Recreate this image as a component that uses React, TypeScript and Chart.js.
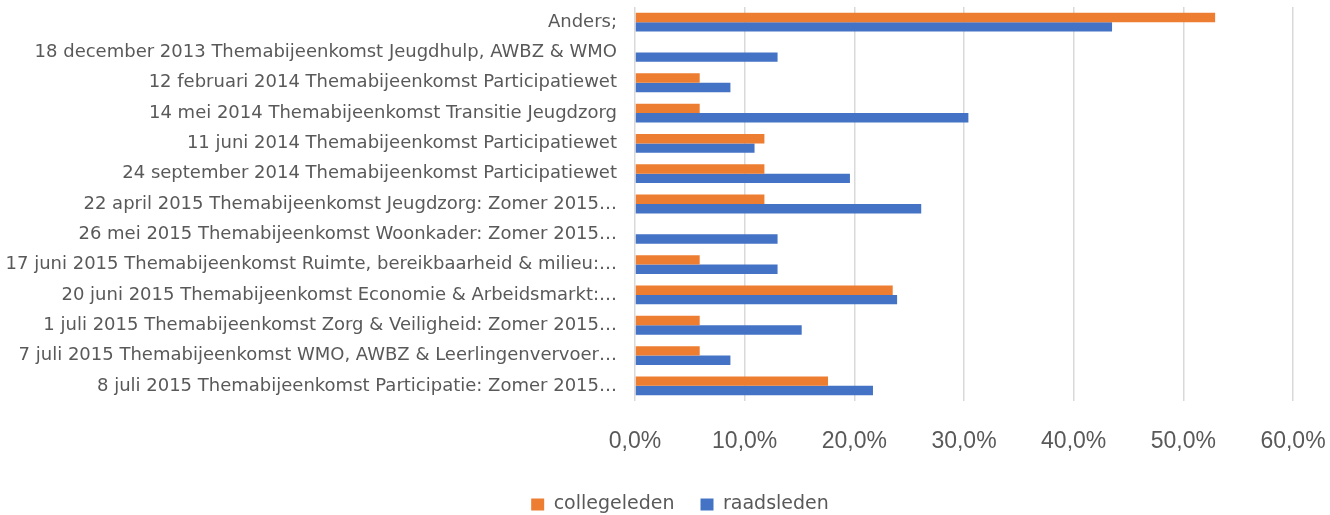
import React, { useEffect, useRef } from "react";
import { Chart, registerables } from "chart.js";

Chart.register(...registerables);

const categories = [
  "Anders;",
  "18 december 2013 Themabijeenkomst Jeugdhulp, AWBZ & WMO",
  "12 februari 2014 Themabijeenkomst Participatiewet",
  "14 mei 2014 Themabijeenkomst Transitie Jeugdzorg",
  "11 juni 2014 Themabijeenkomst Participatiewet",
  "24 september 2014 Themabijeenkomst Participatiewet",
  "22 april 2015 Themabijeenkomst Jeugdzorg: Zomer 2015…",
  "26 mei 2015 Themabijeenkomst Woonkader: Zomer 2015…",
  "17 juni 2015 Themabijeenkomst Ruimte, bereikbaarheid & milieu:…",
  "20 juni 2015 Themabijeenkomst Economie & Arbeidsmarkt:…",
  "1 juli 2015 Themabijeenkomst Zorg & Veiligheid: Zomer 2015…",
  "7 juli 2015 Themabijeenkomst WMO, AWBZ & Leerlingenvervoer…",
  "8 juli 2015 Themabijeenkomst Participatie: Zomer 2015…",
];

const collegeleden = [52.9, 0, 5.9, 5.9, 11.8, 11.8, 11.8, 0, 5.9, 23.5, 5.9, 5.9, 17.6];
const raadsleden = [43.5, 13.0, 8.7, 30.4, 10.9, 19.6, 26.1, 13.0, 13.0, 23.9, 15.2, 8.7, 21.7];

const seriesNames = ["collegeleden", "raadsleden"];
const xMin = 0;
const xMax = 60;
const xStep = 10;

const formatPct = (v: number) => v.toFixed(1).replace(".", ",") + "%";

export default function App() {
  const ref = useRef<HTMLCanvasElement | null>(null);

  useEffect(() => {
    if (!ref.current) return;
    const chart = new Chart(ref.current, {
      type: "bar",
      data: {
        labels: categories,
        datasets: [
          {
            label: seriesNames[0],
            data: collegeleden,
            backgroundColor: "#ED7D31",
            borderWidth: 0,
            categoryPercentage: 0.62,
            barPercentage: 1,
          },
          {
            label: seriesNames[1],
            data: raadsleden,
            backgroundColor: "#4472C4",
            borderWidth: 0,
            categoryPercentage: 0.62,
            barPercentage: 1,
          },
        ],
      },
      options: {
        indexAxis: "y",
        responsive: false,
        animation: false,
        layout: { padding: { left: 0, right: -30, top: 7, bottom: -9 } },
        plugins: {
          tooltip: { enabled: false },
          legend: {
            position: "bottom",
            labels: {
              boxWidth: 13,
              boxHeight: 12,
              padding: 26,
              color: "#595959",
              font: { family: "'DejaVu Sans'", size: 19 },
            },
          },
        },
        scales: {
          x: {
            min: xMin,
            max: xMax,
            border: { display: false },
            grid: { color: "#d9d9d9", lineWidth: 1.5, drawTicks: false },
            ticks: {
              stepSize: xStep,
              padding: 27,
              color: "#595959",
              font: { family: "'Liberation Sans'", size: 23 },
              callback: (v: any) => formatPct(Number(v)),
            },
            afterFit: (s: any) => {
              s.height = 68;
              s.paddingLeft = 0;
              s.paddingRight = 37;
            },
          },
          y: {
            border: { display: false },
            grid: { display: false },
            ticks: {
              padding: 10,
              color: "#595959",
              autoSkip: false,
              font: { family: "'DejaVu Sans'", size: 18 },
            },
            afterFit: (s: any) => {
              s.width = 635;
              s.paddingTop = 0;
              s.paddingBottom = 0;
            },
          },
        },
      },
    });
    return () => chart.destroy();
  }, []);

  return (
    <div style={{ position: "fixed", left: 0, top: 0, width: 1330, height: 515, background: "#fff" }}>
      <canvas ref={ref} width={1330} height={515} />
    </div>
  );
}
